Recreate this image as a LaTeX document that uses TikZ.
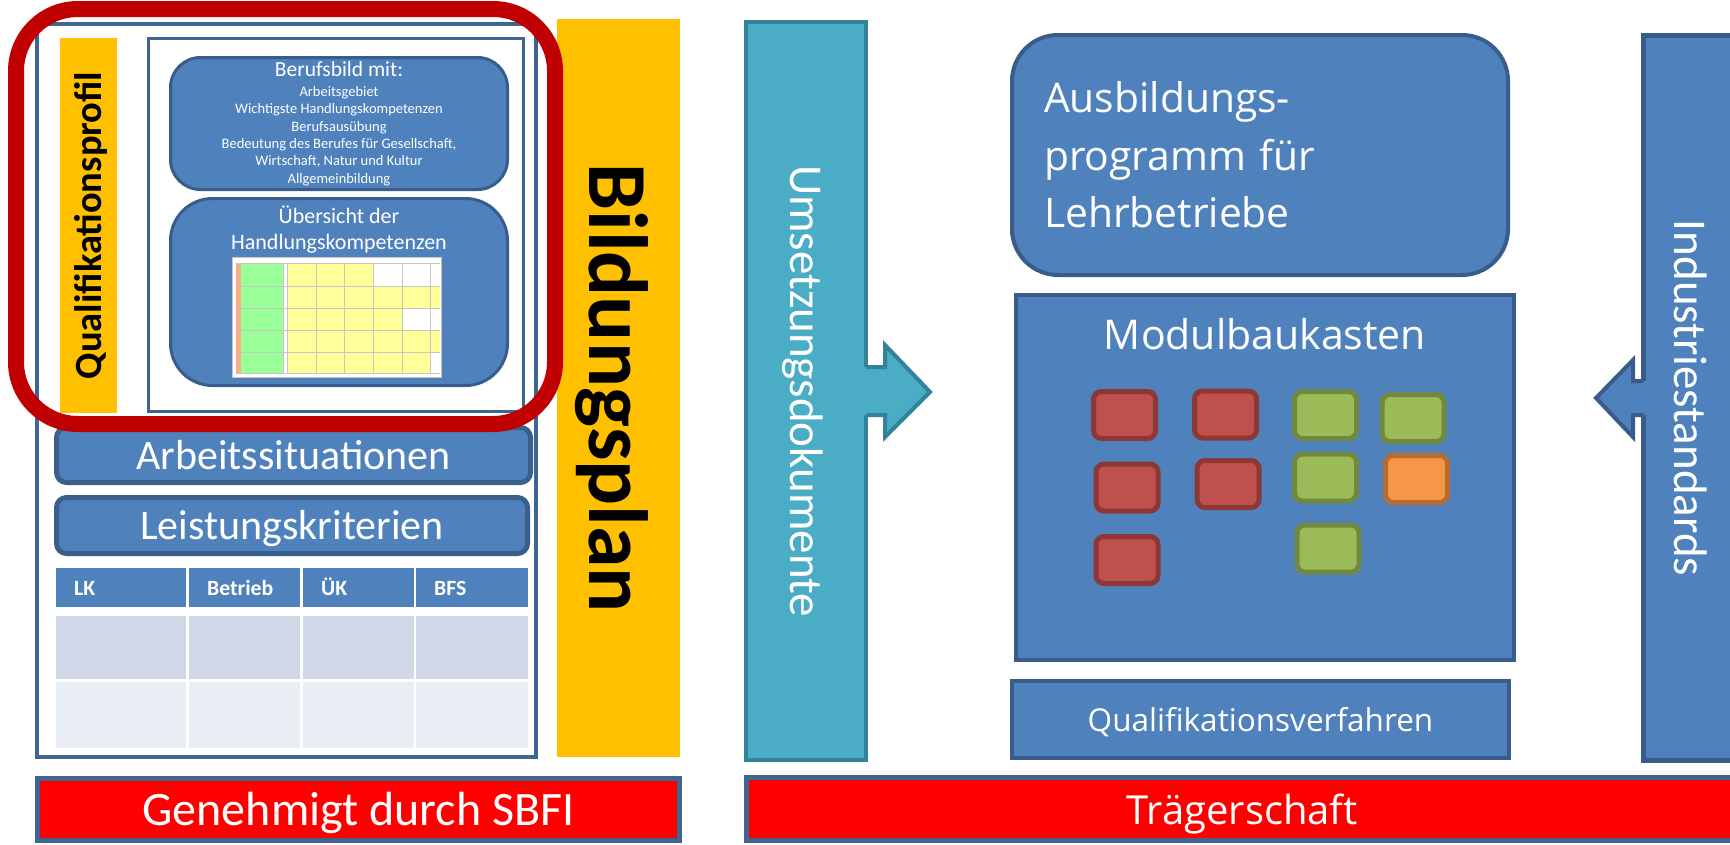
\documentclass[tikz,border=0pt]{standalone}
\usepackage{fontspec}
\setmainfont{Carlito}
\newfontfamily\opensans{Open Sans}

\definecolor{boxblue}{HTML}{4F81BD}
\definecolor{boxline}{HTML}{385D8A}
\definecolor{boxdark}{HTML}{3A5F8B}
\definecolor{frameblue}{HTML}{3F6592}
\definecolor{planyellow}{HTML}{FFC000}
\definecolor{docteal}{HTML}{4BACC6}
\definecolor{docline}{HTML}{34829A}
\definecolor{markred}{HTML}{C00000}
\definecolor{barred}{HTML}{FF0000}
\definecolor{rowdark}{HTML}{D0D8E8}
\definecolor{rowlight}{HTML}{E9EDF4}
\definecolor{modred}{HTML}{C0504D}
\definecolor{modredline}{HTML}{8C3836}
\definecolor{modgreen}{HTML}{9BBB59}
\definecolor{modgreenline}{HTML}{71893F}
\definecolor{modorange}{HTML}{F79646}
\definecolor{modorangeline}{HTML}{B66D31}
\definecolor{hkorange}{HTML}{F4B084}
\definecolor{hkgreen}{HTML}{99FF99}
\definecolor{hkyellow}{HTML}{FFFF99}

\tikzset{
  box/.style={draw=boxline, line width=3pt, fill=boxblue, text=white, inner sep=0pt},
  calline/.style={text height=0.95*#1pt, text depth=0.27*#1pt},
  osline/.style={text height=1.07*#1pt, text depth=0.29*#1pt},
  redbar/.style={draw=frameblue, line width=5pt, fill=barred, text=white, inner sep=0pt},
  headcell/.style={fill=boxblue, text=white, anchor=north west, minimum height=39pt,
    inner ysep=0pt, inner xsep=18pt, align=left, calline=21.7,
    font=\bfseries\fontsize{21.7}{26}\selectfont},
  bodycell/.style={anchor=north west, inner sep=0pt},
  modbox/.style={fill=mod#1, draw=mod#1line, line width=5pt, rounded corners=8pt,
    minimum width=62pt, minimum height=47pt, inner sep=0pt},
  hkgrid/.style={draw=gray!45, line width=0.6pt},
}

\begin{document}
\begin{tikzpicture}[x=1pt, y=-1pt]
\useasboundingbox (0,0) rectangle (1730,844);
\clip (0,0) rectangle (1730,844);
\fill[white] (0,0) rectangle (1730,844);

% Bildungsplan
\node[draw=frameblue, line width=4pt, fill=white, minimum width=499pt, minimum height=733pt] (planbox) at (286.5,390.5) {};
\node[fill=planyellow, rotate=90, minimum width=375pt, minimum height=57pt, inner sep=0pt, calline=38.5,
  font=\bfseries\fontsize{38.5}{46}\selectfont] (qualbar) at (88.5,225.5) {Qualifikationsprofil};
\node[draw=frameblue, line width=3pt, fill=white, minimum width=375pt, minimum height=373pt] (profbox) at (336,225) {};
\node[box, rounded corners=30pt, minimum width=337pt, minimum height=132pt, align=center,
  font=\fontsize{14.5}{17.4}\selectfont] (berufsbild) at (339,123.5)
  {{\fontsize{21.5}{24}\selectfont Berufsbild mit:}\\[2.6pt]
   Arbeitsgebiet\\ Wichtigste Handlungskompetenzen\\ Berufsausübung\\
   Bedeutung des Berufes für Gesellschaft,\\ Wirtschaft, Natur und Kultur\\ Allgemeinbildung};
\node[box, rounded corners=42pt, minimum width=337pt, minimum height=187pt] (uebersicht) at (339,292) {};
\node[text=white, anchor=base, font=\fontsize{22}{26}\selectfont] (uebtitle) at (339,223) {Übersicht der};
\node[text=white, anchor=base, font=\fontsize{22}{26}\selectfont] (uebtitleb) at (339,249) {Handlungskompetenzen};

% kleine Tabelle der Handlungskompetenzen
\fill[white] (232,257) rectangle (441,377);
\draw[hkgrid] (232,257) rectangle (441,377);
\fill[hkorange] (236,263) rectangle (241,373);
\fill[hkgreen] (241,263) rectangle (283,373);
\fill[hkyellow] (287,263) rectangle (440,373);
\fill[white] (373,264) rectangle (440,286);
\fill[white] (402,308) rectangle (440,330);
\fill[white] (430,352) rectangle (440,373);
\foreach \y in {263,286,308,330,352,373}
  \draw[hkgrid] (236,\y) -- (440,\y);
\foreach \x in {283,287,316,344,373,402,430}
  \draw[hkgrid] (\x,263) -- (\x,373);

\node[box, line width=5pt, draw=boxdark, rounded corners=10pt, minimum width=474pt, minimum height=55pt,
  calline=42, font=\fontsize{42}{50}\selectfont] (arbsit) at (293.5,455) {Arbeitssituationen};
\node[box, line width=5pt, draw=boxdark, rounded corners=10pt, minimum width=471pt, minimum height=56pt,
  calline=42, font=\fontsize{42}{50}\selectfont] (leistung) at (292,525.5) {Leistungskriterien};

\node[headcell, text width=94pt] (hlk) at (56,568) {LK};
\node[headcell, text width=75pt] (hbetrieb) at (189,568) {Betrieb};
\node[headcell, text width=75pt] (huek) at (303,568) {ÜK};
\node[headcell, text width=76pt] (hbfs) at (416,568) {BFS};
\node[bodycell, fill=rowdark, minimum width=130pt, minimum height=63pt] (lka) at (56,616) {};
\node[bodycell, fill=rowdark, minimum width=111pt, minimum height=63pt] (betrieba) at (189,616) {};
\node[bodycell, fill=rowdark, minimum width=111pt, minimum height=63pt] (ueka) at (303,616) {};
\node[bodycell, fill=rowdark, minimum width=112pt, minimum height=63pt] (bfsa) at (416,616) {};
\node[bodycell, fill=rowlight, minimum width=130pt, minimum height=66pt] (lkb) at (56,682) {};
\node[bodycell, fill=rowlight, minimum width=111pt, minimum height=66pt] (betriebb) at (189,682) {};
\node[bodycell, fill=rowlight, minimum width=111pt, minimum height=66pt] (uekb) at (303,682) {};
\node[bodycell, fill=rowlight, minimum width=112pt, minimum height=66pt] (bfsb) at (416,682) {};

\node[redbar, minimum width=642pt, minimum height=62pt, calline=48,
  font=\fontsize{48}{56}\selectfont] (sbfi) at (358.5,809.5) {Genehmigt durch SBFI};

\node[fill=planyellow, rotate=-90, minimum width=738pt, minimum height=123pt, inner sep=0pt, calline=84,
  font=\bfseries\fontsize{84}{96}\selectfont] (bildungsplan) at (618.5,388) {Bildungsplan};

% Umsetzung
\node[draw=docline, fill=docteal, line width=4pt, text=white, rotate=-90, minimum width=738pt,
  minimum height=120pt, inner sep=0pt, calline=47, font=\fontsize{47}{56}\selectfont]
  (umsetzung) at (806,391) {Umsetzungsdokumente};
\coordinate (umsetzungA) at (866,367);
\coordinate (umsetzungB) at (866,415);
\fill[docteal] (863,367) -- (885,367) -- (885,345) -- (930,392) -- (885,437) -- (885,415) -- (863,415) -- cycle;
\draw[docline, line width=4pt] (umsetzungA) -- (885,367) -- (885,345) -- (930,392) -- (885,437) -- (885,415) -- (umsetzungB);

\node[box, line width=4pt, rounded corners=46pt, minimum width=496pt, minimum height=240pt,
  inner xsep=32pt, text width=432pt, align=left, font=\opensans\fontsize{40.8}{57.5}\selectfont]
  (ausbildung) at (1260,155) {Ausbildungs-\\programm für\\Lehrbetriebe};

\node[box, line width=4pt, minimum width=498pt, minimum height=365pt] (modul) at (1265,477.5) {};
\node[text=white, anchor=base, font=\opensans\fontsize{41}{48}\selectfont] (modtitle) at (1265,349) {Modulbaukasten};
\node[modbox=red] (moda) at (1124.5,415) {};
\node[modbox=red] (modb) at (1225.5,414.5) {};
\node[modbox=red] (modc) at (1127,487.5) {};
\node[modbox=red] (modd) at (1228,484) {};
\node[modbox=red] (mode) at (1127,560) {};
\node[modbox=green] (modf) at (1325.5,415) {};
\node[modbox=green] (modg) at (1413,418) {};
\node[modbox=green] (modh) at (1325.5,477.5) {};
\node[modbox=orange] (modi) at (1416.5,479) {};
\node[modbox=green] (modj) at (1328,548.5) {};

\node[box, line width=4pt, minimum width=497pt, minimum height=77pt, osline=31.5,
  font=\opensans\fontsize{31.5}{38}\selectfont] (qv) at (1260.5,719.5) {Qualifikationsverfahren};

% Industriestandards
\node[box, line width=5pt, rotate=-90, minimum width=725pt, minimum height=94pt, calline=47,
  font=\fontsize{47}{56}\selectfont] (industrie) at (1690.5,398) {Industriestandards};
\coordinate (industrieA) at (1643.5,381);
\coordinate (industrieB) at (1643.5,415);
\fill[boxblue] (1647,381) -- (1633,381) -- (1633,360) -- (1596,398) -- (1633,437) -- (1633,415) -- (1647,415) -- cycle;
\draw[boxline, line width=4pt] (industrieA) -- (1633,381) -- (1633,360) -- (1596,398) -- (1633,437) -- (1633,415) -- (industrieB);

\node[redbar, minimum width=991pt, minimum height=63pt, osline=40,
  font=\opensans\fontsize{40}{48}\selectfont] (traeger) at (1242,809) {Trägerschaft};

\node[draw=markred, line width=16pt, rounded corners=62pt, minimum width=539pt, minimum height=415pt] (fokus) at (285.5,216.5) {};
\end{tikzpicture}
\end{document}
